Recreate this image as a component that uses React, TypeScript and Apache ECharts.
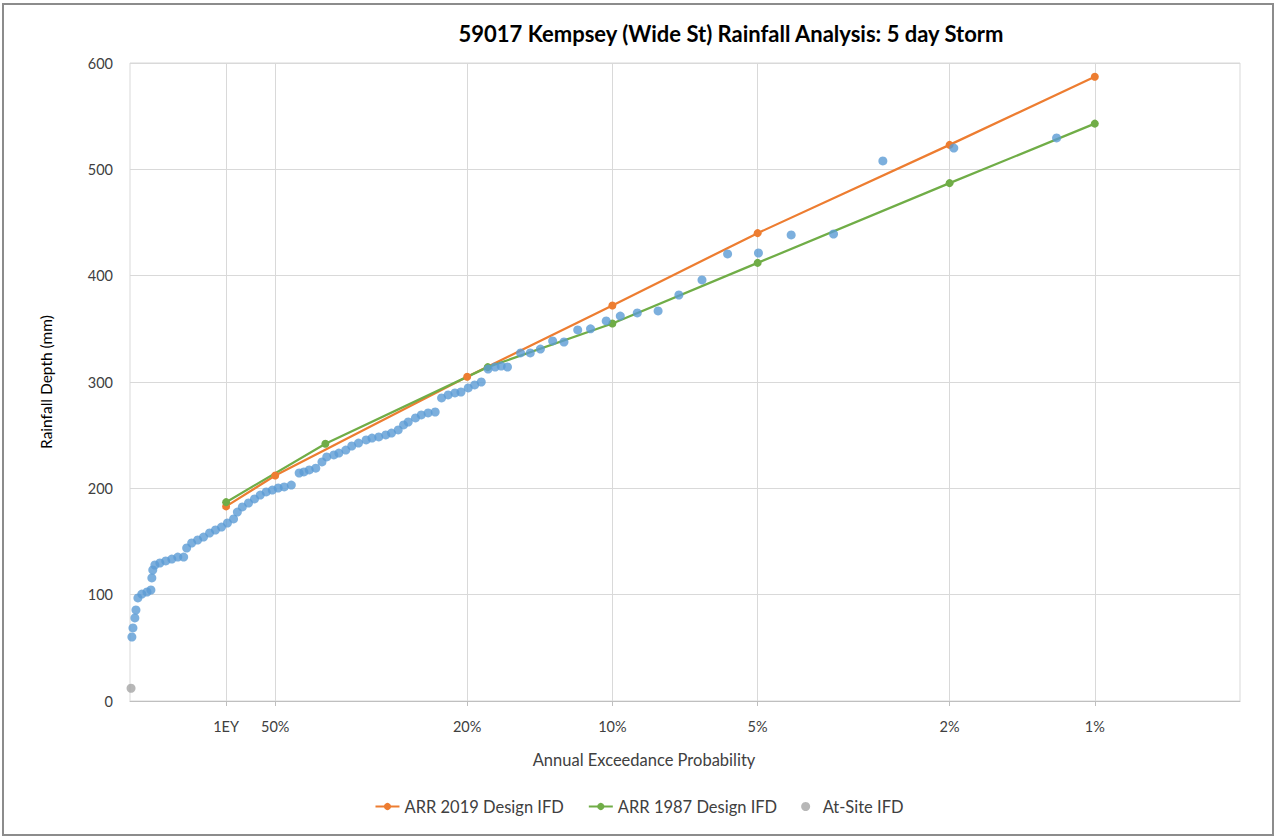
import React, { useEffect, useRef } from "react";
import * as echarts from "echarts";

// Axis tick positions (AEP %) and labels
const tickAep = [63.21, 50, 20, 10, 5, 2, 1];
const tickLabels = ["1EY", "50%", "20%", "10%", "5%", "2%", "1%"];

// ARR 2019 Design IFD
const arr2019Aep = [63.21, 50, 20, 10, 5, 2, 1];
const arr2019Depth = [183, 212, 305, 372, 440, 523, 587];

// ARR 1987 Design IFD
const arr1987Aep = [63.21, 39.35, 18.13, 10, 5, 2, 1];
const arr1987Depth = [187, 242, 314, 355, 412, 487, 543];

// At-Site IFD
const atSiteAep = [99.5];
const atSiteDepth = [12];

// Observed annual maxima (plotting positions)
const observedAep = [
  99.1, 98.6, 97.7, 97.2, 96.3, 94.5, 92.2, 90.5, 90.1, 89.7,
  88.8, 86.7, 84.3, 81.9, 79.6, 77.4, 76.3, 74.5, 72.4, 70.4,
  68.4, 66.5, 64.6, 62.8, 61.0, 59.9, 58.5, 56.8, 55.2, 53.7,
  52.2, 50.7, 49.3, 47.9, 46.3, 44.6, 43.6, 42.5, 41.2, 40.0,
  39.1, 37.8, 36.9, 35.7, 34.7, 33.6, 32.4, 31.5, 30.5, 29.5,
  28.7, 27.8, 27.1, 26.5, 25.6, 24.9, 24.1, 23.3, 22.6, 21.9,
  21.2, 20.6, 19.9, 19.3, 18.7, 18.1, 17.5, 17.0, 16.5, 15.5,
  14.8, 14.1, 13.3, 12.6, 11.8, 11.1, 10.3, 9.63, 8.88, 8.04,
  7.28, 6.52, 5.77, 4.98, 4.26, 3.48, 2.75, 1.96, 1.2,
];
const observedDepth = [
  60.2, 68.7, 78.1, 85.6, 96.9, 100.6, 102.5, 104.4, 115.7, 123.2,
  127.9, 129.8, 131.7, 133.5, 135.4, 135.4, 143.9, 148.6, 151.4, 154.2,
  158, 160.8, 163.6, 167.4, 171.2, 177.7, 182.5, 186.2, 190, 193.7,
  196.6, 198.4, 200.3, 201.3, 203.1, 214.4, 215.4, 217.3, 219, 224.8,
  229.5, 231.4, 233.2, 236, 239.8, 242.6, 245.5, 247.3, 248.3, 250.2,
  252, 254.9, 259.6, 262.4, 266.2, 269, 270.9, 271.8, 285, 287.8,
  289.7, 290.6, 294.4, 297.2, 300, 312.2, 314.1, 315, 314.1, 327.3,
  327.3, 331, 338.6, 337.6, 349, 350, 357.4, 362, 365, 366.8,
  381.8, 396, 420.4, 421.3, 438.3, 439.2, 507.9, 520, 529.5,
];

const FONT = "Lato";
const toX = (aep: number) => Math.log10(100 / aep);
const pairs = (a: number[], d: number[]) => a.map((v, i) => [toX(v), d[i]]);

export default function App() {
  const ref = useRef<HTMLDivElement>(null);
  useEffect(() => {
    if (!ref.current) return;
    const chart = echarts.init(ref.current, undefined, { renderer: "svg" });
    const tickX = tickAep.map(toX);
    chart.setOption({
      animation: false,
      backgroundColor: "#ffffff",
      textStyle: { fontFamily: FONT },
      title: {
        text: "59017 Kempsey (Wide St) Rainfall Analysis: 5 day Storm",
        left: 726,
        textAlign: "center",
        top: 17,
        textStyle: { fontFamily: FONT, fontSize: 22, fontWeight: "bold", color: "#000000" },
      },
      grid: {
        left: 130,
        right: 38,
        top: 63,
        bottom: 137,
        show: true,
        borderColor: "#d9d9d9",
        borderWidth: 1,
      },
      legend: {
        data: ["ARR 2019 Design IFD", "ARR 1987 Design IFD", "At-Site IFD"],
        left: "center",
        top: 793,
        itemWidth: 24,
        itemHeight: 9,
        itemGap: 24,
        textStyle: { fontFamily: FONT, fontSize: 16.5, color: "#404040" },
      },
      xAxis: {
        type: "value",
        min: 0,
        max: Math.log10(200),
        axisLine: { show: true, lineStyle: { color: "#bfbfbf" } },
        axisTick: {
          show: true,
          customValues: tickX,
          length: 5,
          lineStyle: { color: "#bfbfbf" },
        },
        axisLabel: {
          customValues: tickX,
          margin: 18,
          fontFamily: FONT,
          fontSize: 14.5,
          color: "#404040",
          formatter: (v: number) => {
            const i = tickX.findIndex((t) => Math.abs(t - v) < 1e-6);
            return i >= 0 ? tickLabels[i] : "";
          },
        },
        splitLine: { show: true, lineStyle: { color: "#d9d9d9" } },
      },
      yAxis: {
        type: "value",
        min: 0,
        max: 600,
        interval: 100,
        name: "Rainfall Depth (mm)",
        nameLocation: "middle",
        nameGap: 76,
        nameTextStyle: { fontFamily: FONT, fontSize: 15.5, color: "#000000" },
        axisLine: { show: false },
        axisTick: { show: false },
        axisLabel: { margin: 17, fontFamily: FONT, fontSize: 14.5, color: "#404040" },
        splitLine: { show: true, lineStyle: { color: "#d9d9d9" } },
      },
      graphic: [
        {
          type: "rect",
          shape: { x: 3, y: 4, width: 1270, height: 831 },
          style: { fill: "none", stroke: "#8c8c8c", lineWidth: 2 },
          silent: true,
        },
        {
          type: "text",
          x: 644,
          y: 760,
          style: {
            text: "Annual Exceedance Probability",
            fontFamily: FONT,
            fontSize: 16.5,
            fill: "#404040",
            align: "center",
            verticalAlign: "middle",
          },
        },
      ],
      series: [
        {
          name: "ARR 2019 Design IFD",
          type: "line",
          data: pairs(arr2019Aep, arr2019Depth),
          symbol: "circle",
          symbolSize: 8,
          color: "#ed7d31",
          lineStyle: { width: 2.25, color: "#ed7d31" },
          itemStyle: { color: "#ed7d31" },
          z: 3,
        },
        {
          name: "ARR 1987 Design IFD",
          type: "line",
          data: pairs(arr1987Aep, arr1987Depth),
          symbol: "circle",
          symbolSize: 8,
          color: "#70ad47",
          lineStyle: { width: 2.25, color: "#70ad47" },
          itemStyle: { color: "#70ad47" },
          z: 3,
        },
        {
          name: "At-Site IFD",
          type: "scatter",
          data: pairs(atSiteAep, atSiteDepth),
          symbol: "circle",
          symbolSize: 9,
          color: "#a5a5a5",
          itemStyle: { color: "#a5a5a5" },
          z: 3,
        },
        {
          name: "Observed",
          type: "scatter",
          data: pairs(observedAep, observedDepth),
          symbol: "circle",
          symbolSize: 9,
          color: "#5b9bd5",
          itemStyle: { color: "#5b9bd5" },
          z: 4,
        },
      ],
    });
    return () => chart.dispose();
  }, []);
  return (
    <div
      ref={ref}
      style={{ position: "fixed", left: 0, top: 0, width: 1278, height: 838 }}
    />
  );
}
